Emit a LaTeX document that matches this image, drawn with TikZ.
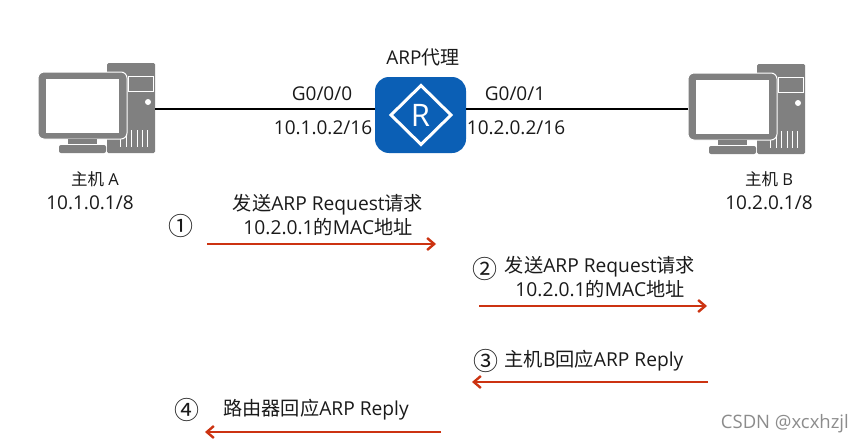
\documentclass[tikz,border=0pt]{standalone}
\usepackage{fontspec}
\setmainfont{Open Sans}
\newfontfamily\cjk{Noto Sans CJK SC}
\newcommand{\zh}[1]{{\cjk #1}}
\definecolor{hostgray}{HTML}{808080}
\definecolor{routerblue}{HTML}{0B5FB5}
\definecolor{arrowred}{HTML}{CC3311}
\definecolor{txt}{HTML}{1A1A1A}
\usetikzlibrary{arrows.meta}
\tikzset{
  x=1pt,y=-1pt,
  lbl/.style={font=\fontsize{19}{22}\selectfont,text=txt,inner sep=0pt,align=center},
  smalllbl/.style={font=\fontsize{16.5}{22}\selectfont,text=txt,inner sep=0pt,align=center},
  msg/.style={font=\fontsize{19.2}{23.5}\selectfont,text=txt,inner sep=0pt,align=center},
  num/.style={font=\cjk\fontsize{25}{25}\selectfont,text=txt,inner sep=0pt},
  wire/.style={draw=black,line width=2.8pt},
  msgarrow/.style={draw=arrowred,line width=2.6pt,-{Straight Barb[length=7pt,width=12pt,line width=2.4pt]}},
  anchorbox/.style={inner sep=0pt,minimum width=0pt,minimum height=0pt},
}
\newcommand{\computer}[3]{%
  \begin{scope}[shift={(#1,#2)}]
    \fill[hostgray,rounded corners=1.5pt] (107,63) rectangle (155,153);
    \draw[white,line width=1pt] (128,76) rectangle (153,91);
    \fill[white] (148,102) circle (3);
    \foreach \vx in {120,126,131.5,137,142.5,147.5}{\draw[white,line width=1pt] (\vx,130) -- (\vx,147);}
    \fill[hostgray,rounded corners=6pt,draw=white,line width=1pt] (38,72) rectangle (127,139);
    \fill[white] (46,79) rectangle (119,133);
    \fill[hostgray] (68,139) rectangle (97,144);
    \fill[hostgray,rounded corners=2pt] (59,145) rectangle (106,153);
  \end{scope}
  \node[anchorbox] (#3) at ({#1+96.5},{#2+108}) [minimum width=117pt,minimum height=90pt] {};
}
\begin{document}
\begin{tikzpicture}
\useasboundingbox (0,0) rectangle (864,447);
\fill[white] (0,0) rectangle (864,447);
\computer{0}{0}{hostA}
\computer{650}{1}{hostB}
\node[anchor=center,minimum width=91pt,minimum height=76pt,inner sep=0pt,fill=routerblue,rounded corners=14pt] (router) at (420.5,115) {};
\coordinate (aport) at (155,109);
\coordinate (bport) at (688,109);
\draw[wire] (aport) -- (aport -| router.west);
\draw[wire] (router.east |- bport) -- (bport);
\draw[white,line width=3pt,miter limit=10] (421,85.5) -- (451,115) -- (421,144.5) -- (391,115) -- cycle;
\node[font=\fontsize{31}{31}\selectfont,text=white,inner sep=0pt] (rlabel) at (420.5,115.5) {R};
\node[lbl] (routername) at (423,57) {ARP\zh{代理}};
\node[lbl] (p0) at (322,94) {G0/0/0};
\node[lbl] (p1) at (515,94) {G0/0/1};
\node[lbl] (ip0) at (323,128) {10.1.0.2/16};
\node[lbl] (ip1) at (516,128) {10.2.0.2/16};
\node[smalllbl] (nameA) at (95,179) {\zh{主机} A};
\node[lbl] (ipA) at (90,203) {10.1.0.1/8};
\node[smalllbl] (nameB) at (769,179) {\zh{主机} B};
\node[lbl] (ipB) at (769,203) {10.2.0.1/8};
\node[num] (n1) at (181,226) {①};
\node[msg] (m1) at (328,215) {\zh{发送}ARP Request\zh{请求}\\10.2.0.1\zh{的}MAC\zh{地址}};
\coordinate (a1s) at (207,244); \coordinate (a1e) at (436,244);
\draw[msgarrow] (a1s) -- (a1e);
\node[num] (n2) at (485,269) {②};
\node[msg] (m2) at (600,277) {\zh{发送}ARP Request\zh{请求}\\10.2.0.1\zh{的}MAC\zh{地址}};
\coordinate (a2s) at (479,306); \coordinate (a2e) at (707,306);
\draw[msgarrow] (a2s) -- (a2e);
\node[num] (n3) at (486,361) {③};
\node[msg] (m3) at (594,361) {\zh{主机}B\zh{回应}ARP Reply};
\coordinate (a3s) at (708,382); \coordinate (a3e) at (472,382);
\draw[msgarrow] (a3s) -- (a3e);
\node[num] (n4) at (187,410) {④};
\node[msg] (m4) at (316,410) {\zh{路由器回应}ARP Reply};
\coordinate (a4s) at (441,432); \coordinate (a4e) at (205,432);
\draw[msgarrow] (a4s) -- (a4e);
\node[font=\fontsize{18.5}{18.5}\selectfont,text=black!45,inner sep=0pt,anchor=east] (mark) at (849,424) {CSDN @xcxhzjl};
\end{tikzpicture}
\end{document}
